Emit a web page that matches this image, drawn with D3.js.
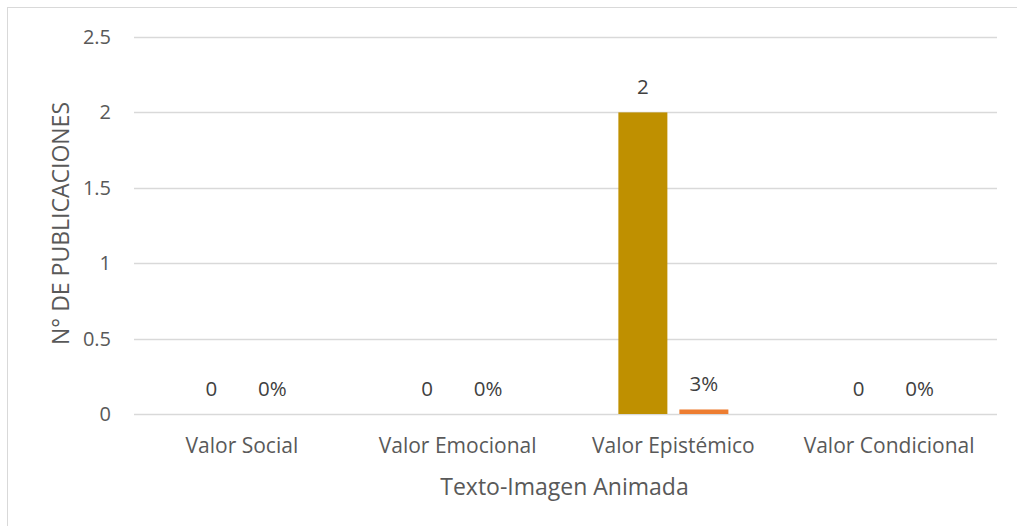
<!DOCTYPE html>
<html>
<head>
<meta charset="utf-8">
<script src="https://cdn.jsdelivr.net/npm/d3@7"></script>
<style>
  html, body { margin: 0; padding: 0; background: #fff; }
  svg { display: block; font-family: "Open Sans", sans-serif; }
</style>
</head>
<body>
<svg id="chart" width="1017" height="526"></svg>
<script>
// Publication counts per value type
const categories = ["Valor Social", "Valor Emocional", "Valor Epistémico", "Valor Condicional"];
const seriesNames = ["count", "share"];
const countValues = [0, 0, 2, 0];
const shareValues = [0, 0, 0.03, 0];
const shareLabels = ["0%", "0%", "3%", "0%"];
const yTicks = [0, 0.5, 1, 1.5, 2, 2.5];
const yTickLabels = ["0", "0.5", "1", "1.5", "2", "2.5"];
const xTitle = "Texto-Imagen Animada";
const yTitle = "N° DE PUBLICACIONES";

const colors = { count: "#BF9000", share: "#ED7D31" };

const svg = d3.select("#chart");
const margin = { left: 134, right: 20, top: 37, bottom: 112 };
const W = 1017, H = 526;
const plotW = W - margin.left - margin.right;
const plotH = H - margin.top - margin.bottom;

// outer chart frame
svg.append("rect")
  .attr("x", 7.5).attr("y", 7.5)
  .attr("width", 1040).attr("height", 560)
  .attr("fill", "none").attr("stroke", "#d9d9d9").attr("stroke-width", 1);

const g = svg.append("g").attr("transform", `translate(${margin.left},${margin.top})`);

const x0 = d3.scaleBand().domain(categories).range([0, plotW]).paddingInner(0).paddingOuter(0);
const groupW = 110;
const x1 = d3.scaleBand().domain(seriesNames).range([0, groupW]).paddingInner(2 - groupW / 61).paddingOuter(0);
const groupOffset = (x0.bandwidth() - groupW) / 2;

const y = d3.scaleLinear().domain([0, 2.5]).range([plotH, 0]);

// gridlines
g.append("g").selectAll("line").data(yTicks).join("line")
  .attr("x1", 0).attr("x2", plotW)
  .attr("y1", d => Math.round(y(d)) + 0.5).attr("y2", d => Math.round(y(d)) + 0.5)
  .attr("stroke", "#d9d9d9").attr("stroke-width", 1.3);

// y tick labels
const yAxis = d3.axisLeft(y).tickValues(yTicks).tickFormat((d, i) => yTickLabels[i]).tickSize(0).tickPadding(23);
const ya = g.append("g").call(yAxis);
ya.select(".domain").remove();
ya.selectAll("text").attr("fill", "#595959").style("font-size", "20px").style("font-family", "'Open Sans', sans-serif");

// x category labels
const xAxis = d3.axisBottom(x0).tickSize(0).tickPadding(24);
const xa = g.append("g").attr("transform", `translate(0,${plotH})`).call(xAxis);
xa.select(".domain").remove();
xa.selectAll("text").attr("fill", "#595959").style("font-size", "21px").style("font-family", "'Open Sans', sans-serif");

// bars
const rows = categories.map((c, i) => ({ cat: c, count: countValues[i], share: shareValues[i], shareLabel: shareLabels[i] }));
const groups = g.append("g").selectAll("g").data(rows).join("g")
  .attr("transform", d => `translate(${x0(d.cat) + groupOffset},0)`);

groups.selectAll("rect").data(d => seriesNames.map(s => ({ key: s, value: d[s] }))).join("rect")
  .attr("x", d => x1(d.key))
  .attr("width", x1.bandwidth())
  .attr("y", d => y(d.value))
  .attr("height", d => y(0) - y(d.value))
  .attr("fill", d => colors[d.key]);

// data labels
groups.selectAll("text.lbl").data(d => [
    { key: "count", value: d.count, text: String(d.count) },
    { key: "share", value: d.share, text: d.shareLabel }
  ]).join("text")
  .attr("class", "lbl")
  .attr("x", d => x1(d.key) + x1.bandwidth() / 2)
  .attr("y", d => y(d.value) - 18)
  .attr("text-anchor", "middle")
  .attr("fill", "#404040")
  .style("font-size", "20.5px")
  .text(d => d.text);

// axis titles
svg.append("text")
  .attr("x", margin.left + plotW / 2 - 1).attr("y", 495)
  .attr("text-anchor", "middle").attr("fill", "#595959")
  .style("font-size", "23px")
  .text(xTitle);

svg.append("text")
  .attr("transform", `translate(69,${margin.top + plotH / 2 - 2}) rotate(-90)`)
  .attr("text-anchor", "middle").attr("fill", "#595959")
  .style("font-size", "23px")
  .text(yTitle);
</script>
</body>
</html>
